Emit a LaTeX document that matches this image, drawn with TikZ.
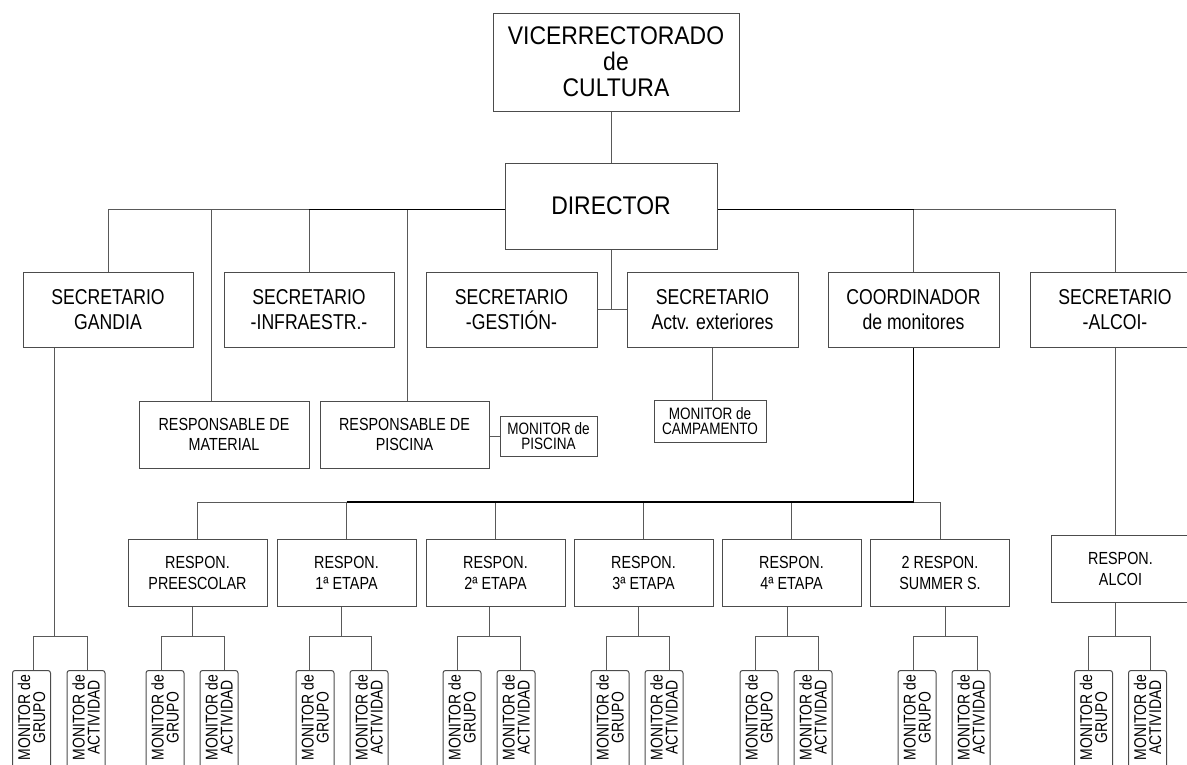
\documentclass[tikz,border=0pt]{standalone}
\usepackage{fontspec}
\setmainfont{Liberation Sans}[FakeStretch=0.82]
\newfontfamily\widefont{Liberation Sans}[FakeStretch=0.9]
\begin{document}
\begin{tikzpicture}[x=1pt,y=-1pt,
  box/.style={draw=black!70,line width=1pt,inner sep=0pt,align=center},
  topbox/.style={box,font=\widefont\fontsize{25.5}{26}\selectfont},
  dirbox/.style={box,font=\widefont\fontsize{25.5}{30}\selectfont},
  secbox/.style={box,minimum width=170,minimum height=75,font=\fontsize{21.5}{25}\selectfont},
  resbox/.style={box,minimum width=170,minimum height=67,font=\fontsize{17.5}{20}\selectfont},
  rspbox/.style={box,minimum width=139,minimum height=67,font=\fontsize{17.5}{21}\selectfont},
  smallbox/.style={box,font=\fontsize{16.5}{15}\selectfont},
  monbox/.style={draw=black!70,line width=1pt,rounded corners=2.5pt,minimum width=38,minimum height=120,anchor=north,inner sep=0pt},
  montext/.style={rotate=90,anchor=east,inner sep=0pt,align=center,font=\fontsize{17}{15}\selectfont},
  conn/.style={draw=black!65,line width=1pt},
  thickconn/.style={draw=black,line width=1.6pt}
]
\useasboundingbox (0,0) rectangle (1187,764);

% top levels
\node[topbox,minimum width=246,minimum height=98] (vice) at (616,62) {VICERRECTORADO\\de\\CULTURA};
\node[dirbox,minimum width=212,minimum height=86] (dir) at (611,206) {DIRECTOR};
\coordinate (dl) at ([yshift=-3.5pt]dir.west);
\coordinate (dr) at ([yshift=-3.5pt]dir.east);

% secretaries
\node[secbox] (gan) at (108,309.5) {SECRETARIO\\GANDIA};
\node[secbox] (inf) at (309,309.5) {SECRETARIO\\-INFRAESTR.-};
\node[secbox,minimum width=171] (ges) at (511.5,309.5) {SECRETARIO\\-GESTIÓN-};
\node[secbox,minimum width=171] (act) at (712.5,309.5) {SECRETARIO\\Actv. exteriores};
\node[secbox,minimum width=171] (coo) at (913.5,309.5) {COORDINADOR\\de monitores};
\node[secbox] (alc) at (1115,309.5) {SECRETARIO\\-ALCOI-};

% responsables
\node[resbox] (mat) at (224,434.5) {RESPONSABLE DE\\MATERIAL};
\node[resbox,minimum width=169] (pis) at (404.5,434.5) {RESPONSABLE DE\\PISCINA};
\node[smallbox,minimum width=97,minimum height=40] (mpis) at (548.5,436) {MONITOR de\\PISCINA};
\node[smallbox,minimum width=112,minimum height=42] (camp) at (710,421) {MONITOR de\\CAMPAMENTO};

\node[rspbox] (pre) at (197.5,572.5) {RESPON.\\PREESCOLAR};
\node[rspbox] (e1) at (346.5,572.5) {RESPON.\\1ª ETAPA};
\node[rspbox] (e2) at (495.5,572.5) {RESPON.\\2ª ETAPA};
\node[rspbox] (e3) at (643.5,572.5) {RESPON.\\3ª ETAPA};
\node[rspbox] (e4) at (791.5,572.5) {RESPON.\\4ª ETAPA};
\node[rspbox] (sum) at (940,572.5) {2 RESPON.\\SUMMER S.};
\node[rspbox] (ralc) at (1120.5,568.5) {RESPON.\\ALCOI};

% connectors top
\draw[conn] (dir.north) -- (dir.north |- vice.south);
\draw[conn] (gan.north) |- (dl);
\draw[conn] ([xshift=-13pt]mat.north) -- ([xshift=-13pt]mat.north |- dl);
\draw[conn] (inf.north) -- (inf.north |- dl);
\draw[conn] ([xshift=2.5pt]pis.north) -- ([xshift=2.5pt]pis.north |- dl);
\draw[thickconn] (inf.north |- dl) -- (dl);
\draw[conn] (alc.north) |- (dr);
\draw[conn] (coo.north) -- (coo.north |- dr);
\draw[thickconn] (coo.north |- dr) -- (dr);
\draw[conn] (dir.south) -- (dir.south |- ges.east);
\draw[conn] (ges.east) -- (act.west);
\draw[conn] (act.south) -- (act.south |- camp.north);
\draw[conn] (pis.east |- mpis.west) -- (mpis.west);
\draw[conn] (alc.south) -- (alc.south |- ralc.north);

% coordinator bar
\coordinate (cb) at (913.5,502);
\draw[conn] (pre.north) |- (cb);
\draw[conn] (sum.north) |- (cb);
\draw[conn] (e1.north) -- (e1.north |- cb);
\draw[conn] (e2.north) -- (e2.north |- cb);
\draw[conn] (e3.north) -- (e3.north |- cb);
\draw[conn] (e4.north) -- (e4.north |- cb);
\draw[thickconn] (e1.north |- cb) -- (cb) -- (coo.south);

% monitor groups
\newcommand\mongrp[7]{%
  \node[monbox] (#1a) at (#6,670) {};
  \node[monbox] (#1b) at (#7,670) {};
  \node[montext] (#1at) at ([yshift=-5pt]#1a.north) {MONITOR de\\GRUPO};
  \node[montext] (#1bt) at ([yshift=-5pt]#1b.north) {MONITOR de\\ACTIVIDAD};
  \coordinate (#1j) at (#3,636);
  \coordinate (#1l) at (#4,636);
  \coordinate (#1r) at (#5,636);
  \draw[conn] (#2.south -| #1j) -- (#1j);
  \draw[conn] (#1l) -- (#1r);
  \draw[conn] (#1l) -- (#1l |- #1a.north);
  \draw[conn] (#1r) -- (#1r |- #1b.north);
}
\mongrp{g}{gan}{54}{33}{87}{31.5}{86}
\mongrp{p}{pre}{192}{161}{224}{165}{219}
\mongrp{m}{e1}{341}{309}{371}{315}{369}
\mongrp{n}{e2}{489}{457}{520}{462}{516}
\mongrp{o}{e3}{638}{606}{669}{610}{664}
\mongrp{q}{e4}{787}{755}{818}{759}{813}
\mongrp{s}{sum}{945}{913}{977}{917}{971}
\mongrp{t}{ralc}{1115}{1088}{1150}{1093.5}{1147.5}
\end{tikzpicture}
\end{document}
